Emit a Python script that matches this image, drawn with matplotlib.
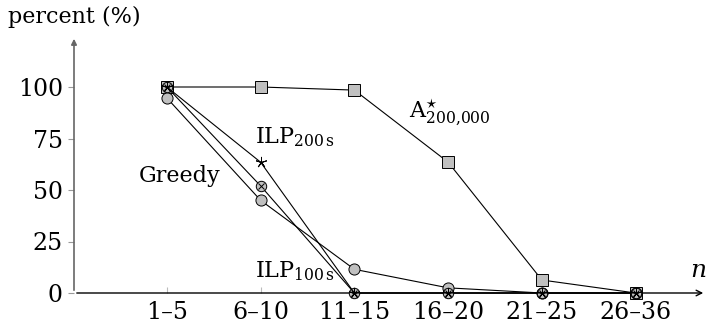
import matplotlib.pyplot as plt
import numpy as np

# ---- data ----
groups = ['1–5', '6–10', '11–15', '16–20', '21–25', '26–36']
astar = [100, 100, 98.5, 63.5, 6.3, 0]
greedy = [94.7, 45, 11.5, 2.5, 0, 0]
ilp200 = [100, 63.5, 0, 0, 0, 0]
ilp100 = [100, 52, 0, 0, 0, 0]
yticks = [0, 25, 50, 75, 100]

plt.rcParams['font.family'] = ['DejaVu Serif']
plt.rcParams['mathtext.fontset'] = 'dejavuserif'

W, H = 706, 335
fig = plt.figure(figsize=(W / 100, H / 100), dpi=100)
x0, x1 = 74, 706
yb, yt = 293, 36
ax = fig.add_axes([x0 / W, (H - yb) / H, (x1 - x0) / W, (yb - yt) / H])
xs = np.arange(len(groups))
ymax = (yb - yt) / 2.06
ax.set_xlim(-0.99, 5.75)
ax.set_ylim(0, ymax)
for s in ax.spines.values():
    s.set_visible(False)

gray = '#c0c0c0'
lw = 0.8
fs = 17
fl = 16
ax.plot(xs, astar, color='black', lw=lw, marker='s', ms=8, mfc=gray, mec='black', mew=0.7, zorder=3, clip_on=False)
ax.plot(xs, greedy, color='black', lw=lw, marker='o', ms=8, mfc=gray, mec='black', mew=0.7, zorder=3, clip_on=False)
ax.plot(xs, ilp100, color='black', lw=lw, marker='o', ms=7.5, mfc=gray, mec='black', mew=0.7, zorder=4, clip_on=False)
ax.plot(xs, ilp100, ls='none', marker='x', ms=5, mec='black', mew=0.7, zorder=5, clip_on=False)
ax.plot(xs, ilp200, color='black', lw=lw, marker=(5, 2, 0), ms=8, mec='black', mew=0.7, zorder=6, clip_on=False)

# axes with arrows
ax.annotate('', xy=(5.75, 0), xytext=(-0.99, 0),
            arrowprops=dict(arrowstyle='->', color='black', lw=1.0), annotation_clip=False)
ax.annotate('', xy=(-0.99, ymax), xytext=(-0.99, 0),
            arrowprops=dict(arrowstyle='-|>', color='#666666', lw=1.2, mutation_scale=8), annotation_clip=False)

ax.set_xticks(xs)
ax.set_xticklabels(groups, fontsize=fs)
ax.set_yticks(yticks)
ax.set_yticklabels([str(v) for v in yticks], fontsize=fs)
ax.tick_params(axis='x', direction='in', length=4, color='#bbbbbb', pad=6)
ax.tick_params(axis='y', direction='out', length=4, color='#999999', pad=4)

fig.text(8 / W, 1 - 23 / H, 'percent (%)', fontsize=fl, va='baseline')
ax.text(5.58, 7.8, '$n$', fontsize=fs + 1, va='baseline')
ax.text(0.14, 54, 'Greedy', fontsize=fl, ha='center', va='baseline')
ax.text(0.94, 72.8, r'ILP$_{\mathrm{200\,s}}$', fontsize=fl, va='baseline')
ax.text(2.58, 85, r'A$^{\star}_{\mathrm{200{,}000}}$', fontsize=fl, va='baseline')
ax.text(0.94, 7.8, r'ILP$_{\mathrm{100\,s}}$', fontsize=fl, va='baseline')

plt.savefig('out.png', dpi=100)
